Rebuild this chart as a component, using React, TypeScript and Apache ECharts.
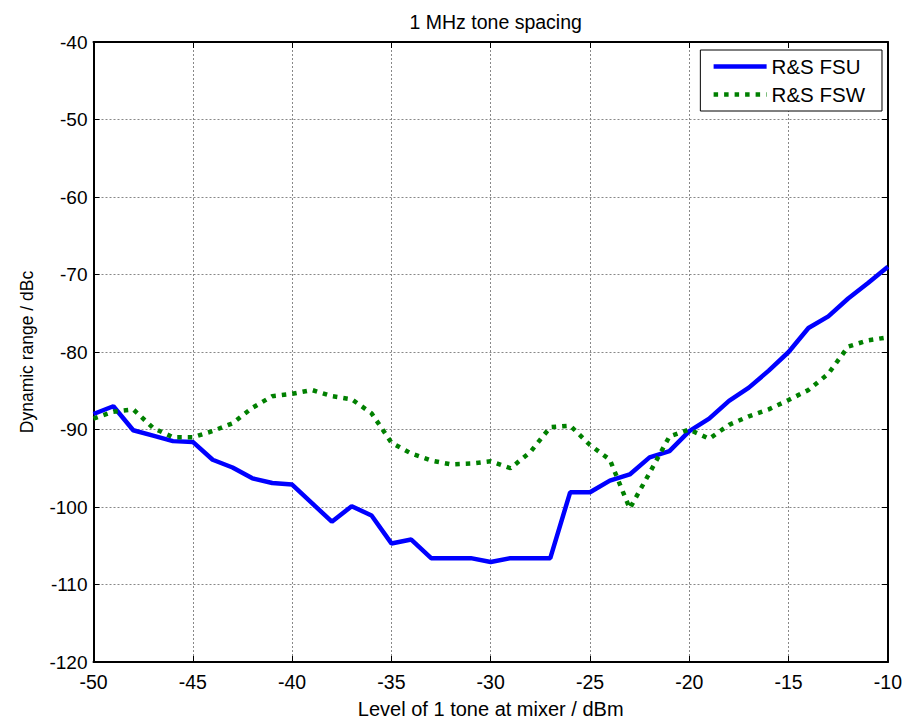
import React, { useEffect, useRef } from "react";
import * as echarts from "echarts";

const xLevels = [
  -50, -49, -48, -47, -46, -45, -44, -43, -42, -41, -40, -39, -38, -37, -36, -35, -34, -33, -32, -31,
  -30, -29, -28, -27, -26, -25, -24, -23, -22, -21, -20, -19, -18, -17, -16, -15, -14, -13, -12, -11, -10,
];

const fsuValues = [
  -88.0, -87.0, -90.1, -90.8, -91.5, -91.6, -93.9, -94.9, -96.3, -96.9, -97.1, -99.5, -101.9, -99.9,
  -101.1, -104.7, -104.2, -106.6, -106.6, -106.6, -107.1, -106.6, -106.6, -106.6, -98.1, -98.1, -96.6,
  -95.8, -93.6, -92.8, -90.2, -88.6, -86.3, -84.6, -82.4, -80.0, -76.9, -75.4, -73.1, -71.1, -69.0,
];

const fswValues = [
  -88.6, -87.7, -87.4, -89.8, -91.0, -91.0, -90.2, -89.2, -87.2, -85.7, -85.4, -84.9, -85.7, -86.1,
  -87.9, -91.7, -93.1, -94.0, -94.5, -94.4, -94.1, -95.0, -92.9, -89.7, -89.5, -92.0, -93.9, -100.2,
  -95.6, -90.9, -90.0, -91.2, -89.4, -88.3, -87.4, -86.2, -84.9, -82.8, -79.3, -78.5, -78.1,
];

const seriesNames = ["R&S FSU", "R&S FSW"];
const titleText = "1 MHz tone spacing";
const xAxisName = "Level of 1 tone at mixer / dBm";
const yAxisName = "Dynamic range / dBc";

const FONT = "'Liberation Sans', Arial, sans-serif";

export default function App() {
  const ref = useRef<HTMLDivElement>(null);

  useEffect(() => {
    if (!ref.current) return;
    const chart = echarts.init(ref.current, undefined, { renderer: "svg" });

    const tickStyle = { inside: true, length: 6, lineStyle: { color: "#000", width: 1 } };
    const axisLineStyle = { show: true, onZero: false, lineStyle: { color: "#000", width: 2 } };
    const gridLine = { show: true, lineStyle: { color: "#888", width: 1, type: [2, 2] as any } };

    chart.setOption({
      animation: false,
      backgroundColor: "#fff",
      textStyle: { fontFamily: FONT },
      title: {
        text: titleText,
        left: 490.7,
        textAlign: "center",
        top: 7,
        textStyle: { fontFamily: FONT, fontSize: 19.5, fontWeight: "normal", color: "#000" },
      },
      legend: {
        data: seriesNames,
        orient: "vertical",
        right: 23,
        top: 50,
        itemWidth: 53,
        itemHeight: 14,
        itemGap: 7,
        padding: [6, 17, 6, 11],
        backgroundColor: "#fff",
        borderColor: "#000",
        borderWidth: 1,
        borderRadius: 0,
        itemStyle: { opacity: 0 },
        lineStyle: { width: 4.5 },
        textStyle: { fontFamily: FONT, fontSize: 20.5, color: "#000", lineHeight: 20 },
      },
      grid: { left: 93.5, right: 17, top: 42, bottom: 60.5, containLabel: false },
      xAxis: [
        {
          type: "value",
          min: -50,
          max: -10,
          interval: 5,
          position: "bottom",
          name: xAxisName,
          nameLocation: "middle",
          nameGap: 37,
          nameTextStyle: { fontFamily: FONT, fontSize: 20, color: "#000" },
          axisLine: axisLineStyle,
          axisTick: tickStyle,
          axisLabel: { fontFamily: FONT, fontSize: 19.5, color: "#000", margin: 10 },
          splitLine: gridLine,
        },
        {
          type: "value",
          min: -50,
          max: -10,
          interval: 5,
          position: "top",
          axisLine: axisLineStyle,
          axisTick: tickStyle,
          axisLabel: { show: false },
          splitLine: { show: false },
        },
      ],
      yAxis: [
        {
          type: "value",
          min: -120,
          max: -40,
          interval: 10,
          position: "left",
          name: yAxisName,
          nameLocation: "middle",
          nameGap: 58,
          nameTextStyle: { fontFamily: FONT, fontSize: 17.5, color: "#000" },
          axisLine: axisLineStyle,
          axisTick: tickStyle,
          axisLabel: { fontFamily: FONT, fontSize: 19, color: "#000", margin: 6 },
          splitLine: gridLine,
        },
        {
          type: "value",
          min: -120,
          max: -40,
          interval: 10,
          position: "right",
          axisLine: axisLineStyle,
          axisTick: tickStyle,
          axisLabel: { show: false },
          splitLine: { show: false },
        },
      ],
      series: [
        {
          name: seriesNames[0],
          type: "line",
          data: xLevels.map((x, i) => [x, fsuValues[i]]),
          symbol: "none",
          color: "#0000ff",
          lineStyle: { color: "#0000ff", width: 4.5, type: "solid" },
          z: 3,
        },
        {
          name: seriesNames[1],
          type: "line",
          data: xLevels.map((x, i) => [x, fswValues[i]]),
          symbol: "none",
          color: "#008000",
          lineStyle: { color: "#008000", width: 4.5, type: [4.5, 6], cap: "butt" },
          z: 4,
        },
      ],
    });

    return () => chart.dispose();
  }, []);

  return (
    <div
      ref={ref}
      style={{ position: "fixed", left: 0, top: 0, width: 905, height: 724, background: "#fff" }}
    />
  );
}
